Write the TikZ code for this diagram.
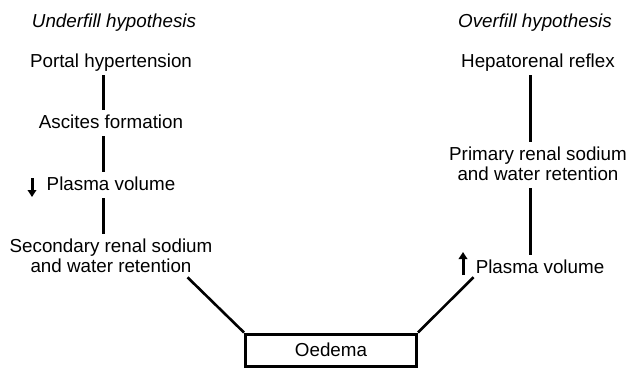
\documentclass[tikz,border=0pt]{standalone}
\usepackage{fontspec}
\setmainfont{Liberation Sans}
\usetikzlibrary{arrows.meta}
\begin{document}
\begin{tikzpicture}[x=1pt,y=-1pt,
  txt/.style={anchor=base,inner sep=0pt,font=\fontsize{18.8}{20}\selectfont,align=center},
  lbl/.style={txt,text height=14pt,text depth=4pt},
  mlbl/.style={txt},
  head/.style={lbl,font=\fontsize{18.8}{20}\selectfont\itshape},
  link/.style={line width=3pt,shorten >=4pt,shorten <=4pt},
  diag/.style={line width=2.6pt},
  boxnode/.style={draw,line width=3pt,minimum width=171pt,minimum height=32pt,inner sep=0pt,font=\fontsize{18.8}{20}\selectfont},
  updown/.style={line width=3pt,-{Triangle[length=7pt,width=8.5pt]}}
]
\useasboundingbox (0,0) rectangle (628,367);
% headings
\node[head] (uh) at (114,27) {Underfill hypothesis};
\node[head] (oh) at (535,27) {Overfill hypothesis};
% left column
\node[lbl] (ph) at (111,67) {Portal hypertension};
\node[lbl] (af) at (111,128) {Ascites formation};
\node[lbl] (pv1) at (111,190) {Plasma volume};
\node[mlbl] (sr) at (111,272) {Secondary renal sodium\\and water retention};
% right column
\node[lbl] (hr) at (538,67) {Hepatorenal reflex};
\node[mlbl] (pr) at (538,180) {Primary renal sodium\\and water retention};
\node[lbl] (pv2) at (540,273) {Plasma volume};
% oedema box
\node[boxnode] (oe) at (331,350) {Oedema};
% vertical connectors
\draw[link] ([xshift=-8pt]ph.south) -- ([xshift=-8pt]af.north);
\draw[link] ([xshift=-8pt]af.south) -- ([xshift=-8pt]pv1.north);
\draw[link] ([xshift=-8pt]pv1.south) -- ([xshift=-8pt]sr.north);
\draw[link] ([xshift=-8pt]hr.south) -- ([xshift=-8pt]pr.north);
\draw[link] ([xshift=-8pt,yshift=-4pt]pr.south) -- ([xshift=-10pt]pv2.north);
% diagonals
\draw[diag] ([xshift=-25pt,yshift=-5pt]sr.south east) -- (oe.north west);
\draw[diag] (oe.north east) -- ([xshift=-2pt,yshift=0pt]pv2.south west);
% small arrows
\coordinate (dtop) at (32,178);
\coordinate (dbot) at (32,197);
\draw[updown] (dtop) -- (dbot);
\coordinate (ubot) at (463,275);
\coordinate (utop) at (463,252);
\draw[updown] (ubot) -- (utop);
\end{tikzpicture}
\end{document}
